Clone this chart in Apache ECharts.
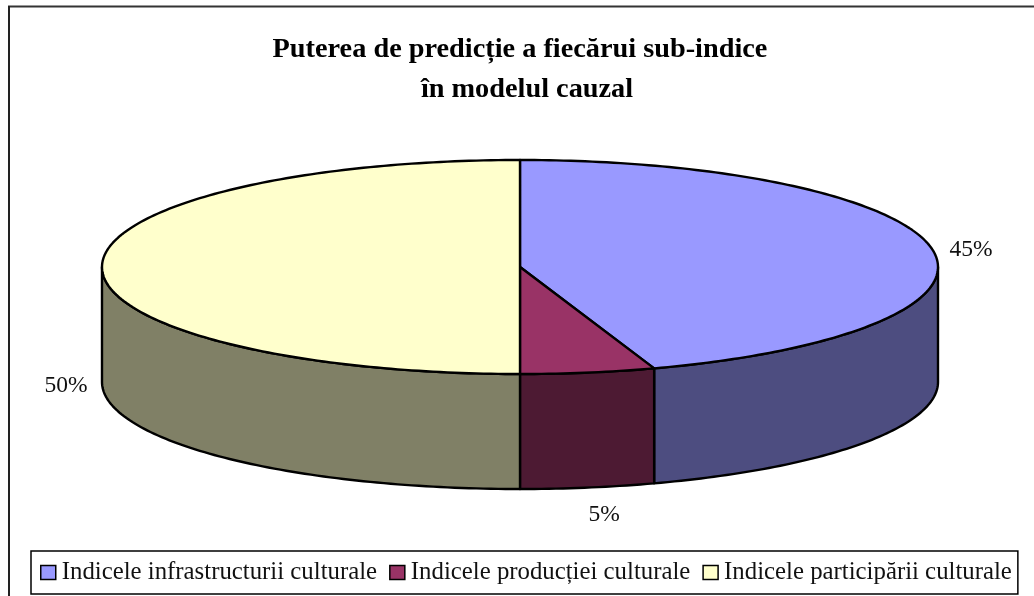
<!DOCTYPE html>
<html>
<head>
<meta charset="utf-8">
<title>Puterea de predicție</title>
<script src="https://cdn.jsdelivr.net/npm/echarts@6/dist/echarts.min.js"></script>
<style>
    html, body { margin: 0; padding: 0; background: #fff; }
    #chart { width: 1034px; height: 596px; }
</style>
</head>
<body>
<div id="chart"></div>
<script>
// Data (labels are the rounded values shown)
const titleLines = ['Puterea de predicție a fiecărui sub-indice', 'în modelul cauzal'];
const categories = ['Indicele infrastructurii culturale', 'Indicele producției culturale', 'Indicele participării culturale'];
const values = [44.8, 5.2, 50];
const valueLabels = ['45%', '5%', '50%'];

// Colours
const topColors = ['#9999FF', '#993366', '#FFFFCC'];
const sideColors = ['#4D4D80', '#4D1A33', '#808066'];

// Flattened pie geometry, in pixels
const CX = 520;
const CY = 267;
const RX = 418;
const RY = 107;
const DEPTH = 115;
const LABEL_GAP_X = 38;
const LABEL_GAP_Y = 25;
const LABEL_NUDGE = [[1, 4], [10, 3], [2, 4]];
const TITLE_LEFT = [515, 522];
const TITLE_TOP = [25, 65];
const FONT = '"Liberation Serif", "Times New Roman", serif';

const total = values.reduce((a, b) => a + b, 0);

// Angle is measured clockwise from 12 o'clock
const rimPoint = (deg, drop) => {
    const r = deg * Math.PI / 180;
    return [CX + RX * Math.sin(r), CY - RY * Math.cos(r) + drop];
};

const rimPoints = (from, to, drop) => {
    const pts = [];
    const steps = Math.max(2, Math.ceil(to - from));
    for (let i = 0; i <= steps; i++) {
        pts.push(rimPoint(from + (to - from) * i / steps, drop));
    }
    return pts;
};

const renderSlice = (params) => {
    const i = params.seriesIndex;
    const before = values.slice(0, i).reduce((a, b) => a + b, 0);
    const start = before / total * 360;
    const end = (before + values[i]) / total * 360;
    const children = [];
    const edge = { stroke: '#000', lineWidth: 2.4, lineJoin: 'round' };

    // side wall: only the part of the rim that faces the viewer (90 to 270 deg)
    const sideFrom = Math.max(start, 90);
    const sideTo = Math.min(end, 270);
    if (sideTo > sideFrom) {
        children.push({
            type: 'polygon',
            shape: { points: rimPoints(sideFrom, sideTo, 0).concat(rimPoints(sideFrom, sideTo, DEPTH).reverse()) },
            style: { fill: sideColors[i], ...edge },
        });
    }

    // top face
    children.push({
        type: 'polygon',
        shape: { points: [[CX, CY]].concat(rimPoints(start, end, 0)) },
        style: { fill: topColors[i], ...edge },
    });

    // value label just outside the rim
    const mid = (start + end) / 2;
    const r = mid * Math.PI / 180;
    const front = Math.cos(r) < 0 ? DEPTH : 0;
    children.push({
        type: 'text',
        style: {
            x: CX + (RX + LABEL_GAP_X) * Math.sin(r) + LABEL_NUDGE[i][0],
            y: CY - (RY + LABEL_GAP_Y) * Math.cos(r) + front + LABEL_NUDGE[i][1],
            text: valueLabels[i],
            fill: '#111',
            font: '23.5px ' + FONT,
            align: 'center',
            verticalAlign: 'middle',
        },
    });

    return { type: 'group', children };
};

const chart = echarts.init(document.getElementById('chart'), null, { renderer: 'canvas' });

chart.setOption({
    backgroundColor: '#fff',
    animation: false,
    title: titleLines.map((text, i) => ({
        text,
        left: TITLE_LEFT[i],
        top: TITLE_TOP[i],
        textAlign: 'center',
        textStyle: {
            color: '#000',
            fontFamily: FONT,
            fontWeight: 'bold',
            fontSize: 28.3,
            lineHeight: 40,
        },
    })),
    legend: {
        left: 31,
        top: 551,
        padding: [9, 6, 9, 9],
        itemGap: 12,
        itemWidth: 15,
        itemHeight: 14,
        icon: 'rect',
        selectedMode: false,
        borderColor: '#000',
        borderWidth: 1.5,
        backgroundColor: '#fff',
        itemStyle: { borderColor: '#000', borderWidth: 1.5 },
        textStyle: { color: '#111', fontFamily: FONT, fontSize: 24.8, padding: [0, 0, 0, 1] },
        data: categories,
    },
    graphic: [
        // chart frame: the picture shows only the top and left edges
        { type: 'line', shape: { x1: 8, y1: 6.5, x2: 1034, y2: 6.5 }, style: { stroke: '#333', lineWidth: 2 } },
        { type: 'line', shape: { x1: 9, y1: 6, x2: 9, y2: 596 }, style: { stroke: '#222', lineWidth: 2 } },
    ],
    series: categories.map((name, i) => ({
        name,
        type: 'custom',
        coordinateSystem: 'none',
        silent: true,
        itemStyle: { color: topColors[i] },
        renderItem: renderSlice,
        data: [values[i]],
    })),
});
</script>
</body>
</html>
